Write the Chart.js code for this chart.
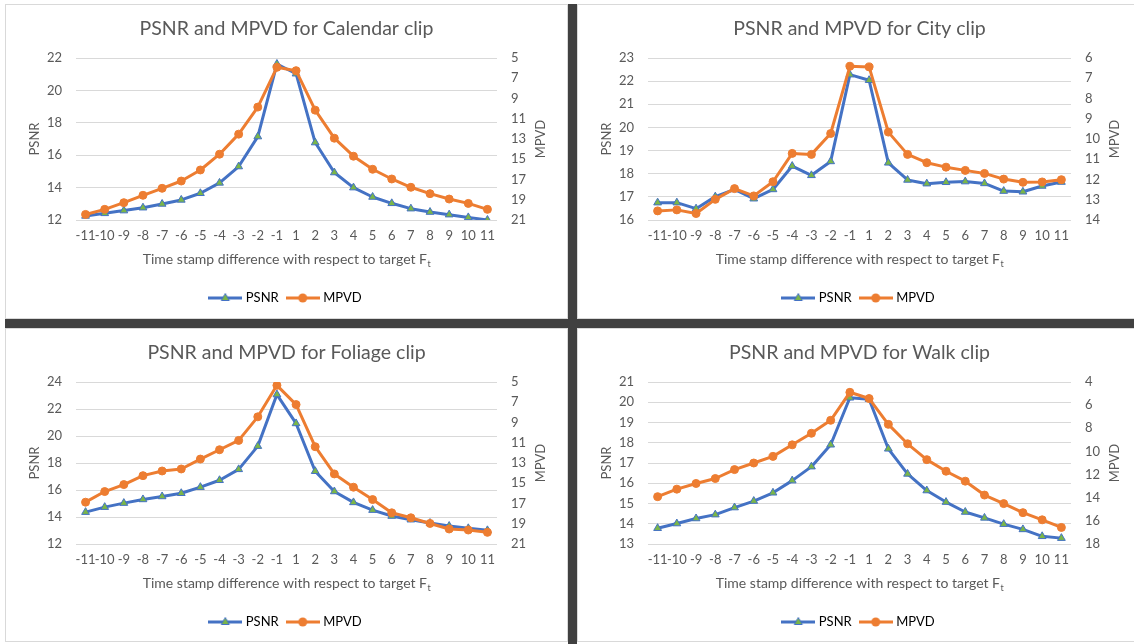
<!DOCTYPE html>
<html>
<head>
<meta charset="utf-8">
<script src="https://cdn.jsdelivr.net/npm/chart.js@4.4.1/dist/chart.umd.min.js"></script>
<style>
  html, body { margin: 0; padding: 0; background: #fff; }
  body { width: 1134px; height: 644px; position: relative; overflow: hidden; }
  .panel { position: absolute; box-sizing: border-box; border: 1px solid #d9d9d9; background: #fff; }
  .bar { position: absolute; background: #404040; }
</style>
</head>
<body>
<div class="panel" id="p1" style="left:5px;top:4px;width:563px;height:315px;"><canvas id="c1"></canvas></div>
<div class="panel" id="p2" style="left:577px;top:4px;width:565px;height:315px;"><canvas id="c2"></canvas></div>
<div class="panel" id="p3" style="left:5px;top:328px;width:563px;height:314px;"><canvas id="c3"></canvas></div>
<div class="panel" id="p4" style="left:577px;top:328px;width:565px;height:314px;"><canvas id="c4"></canvas></div>
<div class="bar" style="left:5px;top:319px;width:1129px;height:9px;"></div>
<div class="bar" style="left:568px;top:4px;width:9px;height:640px;"></div>
<script>
const timeDiffs = ['-11', '-10', '-9', '-8', '-7', '-6', '-5', '-4', '-3', '-2', '-1',
                   '1', '2', '3', '4', '5', '6', '7', '8', '9', '10', '11'];

const calendarPsnr = [12.25, 12.41, 12.58, 12.76, 12.99, 13.24, 13.65, 14.29, 15.30, 17.15, 21.63,
                      21.03, 16.78, 14.93, 14.00, 13.42, 13.03, 12.70, 12.49, 12.33, 12.16, 12.00];
const calendarMpvd = [20.45, 19.95, 19.29, 18.56, 17.87, 17.15, 16.06, 14.50, 12.52, 9.85, 5.92,
                      6.25, 10.15, 12.92, 14.70, 15.99, 16.95, 17.77, 18.40, 18.93, 19.36, 19.95];

const cityPsnr = [16.75, 16.75, 16.49, 17.01, 17.32, 16.92, 17.32, 18.33, 17.93, 18.53, 22.28,
                  22.04, 18.47, 17.73, 17.57, 17.63, 17.66, 17.58, 17.25, 17.22, 17.47, 17.64];
const cityMpvd = [13.55, 13.50, 13.68, 12.98, 12.45, 12.81, 12.11, 10.71, 10.76, 9.73, 6.41,
                  6.44, 9.66, 10.76, 11.17, 11.39, 11.55, 11.70, 11.98, 12.14, 12.12, 12.01];

const foliagePsnr = [14.36, 14.73, 15.03, 15.30, 15.52, 15.76, 16.21, 16.72, 17.53, 19.25, 23.07,
                     20.93, 17.39, 15.89, 15.08, 14.51, 14.07, 13.80, 13.55, 13.33, 13.16, 13.01];
const foliageMpvd = [16.87, 15.82, 15.13, 14.25, 13.79, 13.59, 12.61, 11.69, 10.77, 8.44, 5.33,
                     7.23, 11.39, 14.08, 15.39, 16.61, 17.92, 18.41, 18.97, 19.52, 19.62, 19.85];

const walkPsnr = [13.78, 14.01, 14.26, 14.45, 14.80, 15.12, 15.53, 16.13, 16.82, 17.90, 20.22,
                  20.15, 17.70, 16.46, 15.64, 15.07, 14.58, 14.29, 13.98, 13.72, 13.38, 13.29];
const walkMpvd = [13.91, 13.26, 12.77, 12.34, 11.57, 11.00, 10.43, 9.43, 8.43, 7.31, 4.89,
                  5.43, 7.66, 9.34, 10.71, 11.71, 12.57, 13.77, 14.51, 15.29, 15.91, 16.57];

// [min, max, step]
const calendarPsnrAxis = [12, 22, 2];
const calendarMpvdAxis = [5, 21, 2];
const cityPsnrAxis = [16, 23, 1];
const cityMpvdAxis = [6, 14, 1];
const foliagePsnrAxis = [12, 24, 2];
const foliageMpvdAxis = [5, 21, 2];
const walkPsnrAxis = [13, 21, 1];
const walkMpvdAxis = [4, 18, 2];

const BLUE = '#4472C4';
const ORANGE = '#ED7D31';
const GREEN = '#7AB648';
const TEXT = '#595959';
const FONT = 'Lato';

Chart.defaults.font.family = FONT;
Chart.defaults.color = TEXT;

function makeIcon(color, marker) {
    const c = document.createElement('canvas');
    c.width = 34;
    c.height = 12;
    const g = c.getContext('2d');
    g.strokeStyle = color;
    g.lineWidth = 3;
    g.beginPath();
    g.moveTo(0, 6);
    g.lineTo(34, 6);
    g.stroke();
    g.beginPath();
    if (marker === 'triangle') {
        g.moveTo(17, 1.5);
        g.lineTo(21, 8.5);
        g.lineTo(13, 8.5);
        g.closePath();
        g.fillStyle = GREEN;
        g.fill();
        g.lineWidth = 1;
        g.strokeStyle = BLUE;
        g.stroke();
    } else {
        g.arc(17, 6, 4.5, 0, Math.PI * 2);
        g.fillStyle = color;
        g.fill();
    }
    return c;
}
const legendIcons = [makeIcon(BLUE, 'triangle'), makeIcon(ORANGE, 'circle')];

// axis titles drawn by hand: right title reads bottom-to-top and x title has a subscript
const axisTitles = {
    id: 'axisTitles',
    afterDraw(chart) {
        const { ctx, chartArea } = chart;
        const midY = (chartArea.top + chartArea.bottom) / 2;
        ctx.save();
        ctx.fillStyle = TEXT;
        ctx.textBaseline = 'middle';
        ctx.textAlign = 'center';
        ctx.font = '13px ' + FONT;
        [['PSNR', chartArea.left - 41], ['MPVD', chartArea.right + 44]].forEach(([txt, x]) => {
            ctx.save();
            ctx.translate(x, midY);
            ctx.rotate(-Math.PI / 2);
            ctx.fillText(txt, 0, 0);
            ctx.restore();
        });
        const main = 'Time stamp difference with respect to target F';
        const sub = 't';
        ctx.font = '14px ' + FONT;
        const w1 = ctx.measureText(main).width;
        ctx.font = '9px ' + FONT;
        const w2 = ctx.measureText(sub).width;
        const x0 = (chartArea.left + chartArea.right) / 2 - (w1 + w2) / 2;
        const y0 = chartArea.bottom + 39;
        ctx.textAlign = 'left';
        ctx.font = '14px ' + FONT;
        ctx.fillText(main, x0, y0);
        ctx.font = '9px ' + FONT;
        ctx.fillText(sub, x0 + w1 + 0.5, y0 + 5);
        ctx.restore();
    }
};

function makeChart(canvasId, clip, psnr, mpvd, psnrAxis, mpvdAxis, padBottom) {
    new Chart(document.getElementById(canvasId), {
        type: 'line',
        data: {
            labels: timeDiffs,
            datasets: [{
                label: 'PSNR',
                data: psnr,
                yAxisID: 'y',
                borderColor: BLUE,
                borderWidth: 3,
                pointStyle: 'triangle',
                pointRadius: 4.5,
                pointBackgroundColor: GREEN,
                pointBorderColor: BLUE,
                pointBorderWidth: 1,
                order: 1
            }, {
                label: 'MPVD',
                data: mpvd,
                yAxisID: 'y1',
                borderColor: ORANGE,
                borderWidth: 3,
                pointStyle: 'circle',
                pointRadius: 4,
                pointBackgroundColor: ORANGE,
                pointBorderColor: ORANGE,
                pointBorderWidth: 1,
                order: 0
            }]
        },
        options: {
            responsive: true,
            maintainAspectRatio: false,
            animation: false,
            layout: { padding: { top: 0, left: 0, right: 0, bottom: padBottom } },
            elements: { line: { tension: 0, borderJoinStyle: 'round', borderCapStyle: 'round' } },
            plugins: {
                tooltip: { enabled: false },
                title: {
                    display: true,
                    text: 'PSNR and MPVD for ' + clip + ' clip',
                    color: TEXT,
                    font: { size: 19.5, weight: 'normal', lineHeight: 1.2 },
                    padding: { top: 12, bottom: 17.6 }
                },
                legend: {
                    position: 'bottom',
                    labels: {
                        usePointStyle: true,
                        pointStyleWidth: 28,
                        padding: 10,
                        color: TEXT,
                        font: { size: 13 },
                        generateLabels: chart => chart.data.datasets.map((ds, i) => ({
                            text: ds.label,
                            pointStyle: legendIcons[i],
                            fillStyle: 'rgba(0,0,0,0)',
                            strokeStyle: 'rgba(0,0,0,0)',
                            lineWidth: 0,
                            hidden: false,
                            datasetIndex: i
                        }))
                    }
                }
            },
            scales: {
                x: {
                    offset: true,
                    grid: { display: false, drawTicks: false },
                    border: { display: false },
                    ticks: { autoSkip: false, maxRotation: 0, minRotation: 0, padding: 8, color: TEXT, font: { size: 13 } },
                    afterFit: scale => { scale.height = 61.5; }
                },
                y: {
                    position: 'left',
                    min: psnrAxis[0],
                    max: psnrAxis[1],
                    ticks: { stepSize: psnrAxis[2], padding: 14, color: TEXT, font: { size: 13 } },
                    grid: { color: '#d9d9d9', lineWidth: 1, drawTicks: false },
                    border: { display: false },
                    afterFit: scale => { scale.width = 70; }
                },
                y1: {
                    position: 'right',
                    reverse: true,
                    min: mpvdAxis[0],
                    max: mpvdAxis[1],
                    ticks: { stepSize: mpvdAxis[2], padding: 14, color: TEXT, font: { size: 13 } },
                    grid: { display: false, drawTicks: false },
                    border: { display: false },
                    afterFit: scale => { scale.width = 70; }
                }
            }
        },
        plugins: [axisTitles]
    });
}

makeChart('c1', 'Calendar', calendarPsnr, calendarMpvd, calendarPsnrAxis, calendarMpvdAxis, 3.5);
makeChart('c2', 'City', cityPsnr, cityMpvd, cityPsnrAxis, cityMpvdAxis, 3.5);
makeChart('c3', 'Foliage', foliagePsnr, foliageMpvd, foliagePsnrAxis, foliageMpvdAxis, 2.5);
makeChart('c4', 'Walk', walkPsnr, walkMpvd, walkPsnrAxis, walkMpvdAxis, 2.5);
</script>
</body>
</html>
